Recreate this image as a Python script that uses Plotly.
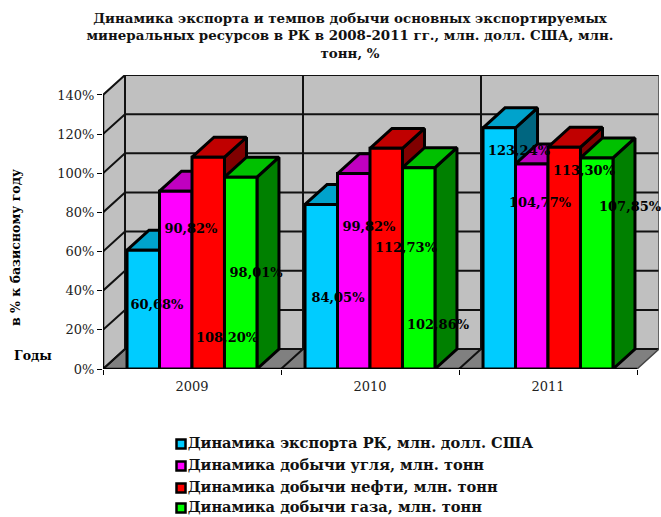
import plotly.graph_objects as go

YEARS = ["2009", "2010", "2011"]
SERIES = ["Динамика экспорта РК, млн. долл. США", "Динамика добычи угля, млн. тонн",
          "Динамика добычи нефти, млн. тонн", "Динамика добычи газа, млн. тонн"]
EXPORT = [60.68, 84.05, 123.24]
COAL = [90.82, 99.82, 104.77]
OIL = [108.20, 112.73, 113.30]
GAS = [98.01, 102.86, 107.85]
VALUES = [EXPORT, COAL, OIL, GAS]
YTICKS = [0, 20, 40, 60, 80, 100, 120, 140]

FRONT = ["#00CCFF", "#FF00FF", "#FF0000", "#00FF00"]
TOP = ["#00A3CC", "#C000C0", "#C00000", "#00C000"]
SIDE = ["#006680", "#800080", "#800000", "#008000"]

# label centres in data coordinates (labels were hand-placed in the original)
LABEL_X = [[0.303, 1.320, 2.337], [0.494, 1.494, 2.455], [0.697, 1.702, 2.702], [0.860, 1.882, 2.961]]
LABEL_Y = [[32.2, 35.8, 110.9], [71.0, 72.0, 84.3], [15.3, 61.3, 100.7], [48.5, 22.0, 82.3]]

DX, DY = 0.1236, 10.2   # oblique depth of the 3-D box in axis units
GAP = 0.135             # side gap in a category
BW = (1 - 2 * GAP) / 4  # bar width
TOPV = 140
SERIF = "DejaVu Serif"
W, H = 661, 517
PL, PR, PT, PB = 103, 659, 75, 369   # plot box in page pixels

fig = go.Figure()


def poly(xs, ys, fill, lw=3, color="black"):
    fig.add_trace(go.Scatter(x=xs + xs[:1], y=ys + ys[:1], mode="lines", fill="toself", fillcolor=fill,
                             line=dict(color=color, width=lw), showlegend=False, hoverinfo="skip",
                             cliponaxis=False))


def line(xs, ys, lw=2, color="#111111"):
    fig.add_trace(go.Scatter(x=xs, y=ys, mode="lines", line=dict(color=color, width=lw),
                             showlegend=False, hoverinfo="skip", cliponaxis=False))


n = len(YEARS)
# walls and floor
poly([0, DX, DX, 0], [0, DY, TOPV + DY, TOPV], "#C0C0C0", 0, "#C0C0C0")
poly([DX, n + DX, n + DX, DX], [DY, DY, TOPV + DY, TOPV + DY], "#C0C0C0", 0, "#C0C0C0")
poly([0, DX, n + DX, n], [0, DY, DY, 0], "#808080", 0, "#808080")
# gridlines
for v in YTICKS:
    line([0, DX, n + DX], [v, v + DY, v + DY])
for c in range(n):
    line([c, c + DX, c + DX], [0, DY, TOPV + DY])
line([n, n + DX, n + DX], [0, DY, TOPV + DY], 1.5, "#444444")
line([0, 0], [0, TOPV], 2.5, "black")
line([0, n], [0, 0], 2.5, "black")

# bars
for c in range(n):
    for s in range(4):
        v = VALUES[s][c]
        x0 = c + GAP + s * BW
        x1 = x0 + BW
        poly([x1, x1 + DX, x1 + DX, x1], [0, DY, v + DY, v], SIDE[s])
        poly([x0, x1, x1 + DX, x0 + DX], [v, v, v + DY, v + DY], TOP[s])
        poly([x0, x1, x1, x0], [0, 0, v, v], FRONT[s])

# labels
for s in range(4):
    fig.add_trace(go.Scatter(x=LABEL_X[s], y=LABEL_Y[s], mode="text",
                             text=[f"{v:.2f}%".replace(".", ",") for v in VALUES[s]],
                             textposition="middle center", cliponaxis=False,
                             textfont=dict(family=SERIF, size=13, color="black", weight="bold"),
                             showlegend=False, hoverinfo="skip"))

# legend entries: swatch right beside its text, on a full-page overlay axis measured in pixels
LEG_X = 181
LEG_Y = [444, 466, 488, 508]
for s in range(4):
    fig.add_trace(go.Scatter(x=[LEG_X], y=[LEG_Y[s]], xaxis="x2", yaxis="y2",
                             mode="markers+text", name=SERIES[s],
                             text=[SERIES[s]], textposition="middle right", cliponaxis=False,
                             textfont=dict(family=SERIF, size=14.6, color="#111111", weight="bold"),
                             marker=dict(symbol="square", size=9, color=FRONT[s],
                                         line=dict(color="black", width=2.5)),
                             showlegend=False, hoverinfo="skip"))

fig.update_layout(
    width=W, height=H, margin=dict(l=0, r=0, t=0, b=0, pad=0, autoexpand=False),
    paper_bgcolor="white", plot_bgcolor="rgba(0,0,0,0)", font=dict(family=SERIF, color="black"),
    showlegend=False,
    title=dict(text="<b>Динамика экспорта и темпов добычи основных экспортируемых<br>"
                    "минеральных ресурсов в РК в 2008-2011 гг., млн. долл. США, млн.<br>тонн, %</b>",
               x=350 / W, xanchor="center", y=1 - 23 / H, yanchor="top",
               font=dict(family=SERIF, size=13.4, color="#111111")),
    xaxis=dict(domain=[PL / W, PR / W], range=[0, n + DX], showgrid=False, zeroline=False, showline=False,
               tickvals=[0.5, 1.5, 2.5], ticktext=YEARS, ticks="", ticklabelstandoff=8,
               tickfont=dict(family=SERIF, size=13, color="#222222"),
               minor=dict(tickmode="array", tickvals=[0, 1, 2, 3], ticks="outside", ticklen=5,
                          tickcolor="black", tickwidth=1)),
    yaxis=dict(domain=[1 - PB / H, 1 - PT / H], range=[0, TOPV + DY], showgrid=False, zeroline=False,
               showline=False, tickvals=YTICKS, ticktext=[f"{v}%" for v in YTICKS], ticks="outside", ticklen=5,
               tickcolor="black", tickwidth=1,
               tickfont=dict(family=SERIF, size=13, color="#222222")),
    xaxis2=dict(domain=[0, 1], range=[0, W], visible=False, anchor="y2"),
    yaxis2=dict(domain=[0, 1], range=[H, 0], visible=False, anchor="x2"),
    annotations=[
        dict(text="<b>в % к базисному году</b>", textangle=-90, x=15 / W, y=1 - 248 / H, xref="paper", yref="paper",
             showarrow=False, xanchor="center", yanchor="middle", font=dict(family=SERIF, size=12.5)),
        dict(text="<b>Годы</b>", x=33 / W, y=1 - 355 / H, xref="paper", yref="paper", showarrow=False,
             xanchor="center", yanchor="middle", font=dict(family=SERIF, size=12.5)),
    ],
)
fig.write_html("out.html", post_script="document.body.style.margin='0';",
               config={"displayModeBar": False})
